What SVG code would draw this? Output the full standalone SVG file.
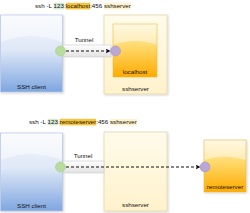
<svg xmlns="http://www.w3.org/2000/svg" width="250" height="213" viewBox="0 0 250 213">
<style>
text{font-family:"Liberation Sans",Arial,sans-serif;font-size:6.2px;fill:#111}
.lbl{text-anchor:middle}
.client{fill:url(#gBlue);stroke:#b8c9e6;stroke-width:0.8}
.server{fill:url(#gCream);stroke:#e3d6a6;stroke-width:0.8}
.host{fill:url(#gOrange);stroke:#e8b84a;stroke-width:0.6}
.tun{fill:url(#gGray);stroke:#c8c8c8;stroke-width:0.6}
.gc{fill:#b7dc9e;stroke:#a3d08a;stroke-width:0.6}
.pc{fill:#b9a7d6;stroke:#a794c8;stroke-width:0.6}
.dash{stroke:#111;stroke-width:1;stroke-dasharray:3,2;fill:none}
.gloss{fill:#ffffff;opacity:0.45}
</style>
<defs>
<linearGradient id="gBlue" x1="0" y1="0" x2="0" y2="1">
<stop offset="0" stop-color="#f5f8fd"/><stop offset="0.45" stop-color="#dfe8f7"/><stop offset="1" stop-color="#7ea6e0"/>
</linearGradient>
<linearGradient id="gCream" x1="0" y1="0" x2="0" y2="1">
<stop offset="0" stop-color="#fffbeb"/><stop offset="1" stop-color="#fff2cc"/>
</linearGradient>
<linearGradient id="gOrange" x1="0" y1="0" x2="0" y2="1">
<stop offset="0" stop-color="#fff4cc"/><stop offset="0.45" stop-color="#ffd766"/><stop offset="1" stop-color="#ffab00"/>
</linearGradient>
<linearGradient id="gGray" x1="0" y1="0" x2="0" y2="1">
<stop offset="0" stop-color="#ffffff"/><stop offset="1" stop-color="#e2e2e2"/>
</linearGradient>
<filter id="sh" x="-10%" y="-10%" width="130%" height="130%">
<feDropShadow dx="1" dy="1" stdDeviation="0.8" flood-color="#000" flood-opacity="0.18"/>
</filter>
<marker id="arr" viewBox="0 0 10 10" refX="9" refY="5" markerWidth="5" markerHeight="5" orient="auto" markerUnits="userSpaceOnUse">
<path d="M0,0 L10,5 L0,10 L3,5 Z" fill="#111"/>
</marker>
</defs>

<g id="title-top">
<rect x="53.6" y="2.8" width="10.4" height="6.6" fill="#d5e8d4"/>
<rect x="65.7" y="2.8" width="24.5" height="6.6" fill="#f9c43a"/>
<rect x="103.9" y="2.8" width="26.9" height="6.6" fill="#fff2cc"/>
<text x="35" y="8">ssh -L </text>
<text x="53.6" y="8">123</text>
<text x="63.96" y="8">:</text>
<text x="65.7" y="8">localhost</text>
<text x="90.15" y="8">:456 </text>
<text x="103.94" y="8">sshserver</text>
</g>

<g id="client-top">
<rect class="client" x="0.5" y="15" width="62" height="77" filter="url(#sh)"/>
<path class="gloss" d="M1,15.5 H62 V42 Q31,30 1,42 Z"/>
<text class="lbl" x="31.5" y="89">SSH client</text>
</g>

<g id="sshserver-top">
<rect class="server" x="104" y="15" width="63" height="79" filter="url(#sh)"/>
<text class="lbl" x="135.5" y="91">sshserver</text>
</g>

<g id="localhost">
<rect class="host" x="113" y="24" width="44" height="53"/>
<path class="gloss" d="M113.5,24.5 H156.5 V45 Q135,37 113.5,45 Z"/>
<text class="lbl" x="135" y="74">localhost</text>
</g>

<g id="tunnel-top">
<rect class="tun" x="63" y="45" width="48" height="12"/>
<text class="lbl" x="84" y="42">Tunnel</text>
</g>

<g id="title-bottom">
<rect x="47.6" y="118.8" width="10.4" height="6.6" fill="#d5e8d4"/>
<rect x="59.66" y="118.8" width="36.5" height="6.6" fill="#f9c43a"/>
<rect x="109.97" y="118.8" width="26.9" height="6.6" fill="#fff2cc"/>
<text x="29" y="124">ssh -L </text>
<text x="47.6" y="124">123</text>
<text x="57.94" y="124">:</text>
<text x="59.66" y="124">remoteserver</text>
<text x="96.18" y="124">:456 </text>
<text x="109.97" y="124">sshserver</text>
</g>

<g id="client-bottom">
<rect class="client" x="0.5" y="133" width="62" height="78" filter="url(#sh)"/>
<path class="gloss" d="M1,133.5 H62 V160 Q31,148 1,160 Z"/>
<text class="lbl" x="31.5" y="208">SSH client</text>
</g>

<g id="sshserver-bottom">
<rect class="server" x="104" y="132" width="63" height="79" filter="url(#sh)"/>
<text class="lbl" x="135.5" y="207">sshserver</text>
</g>

<g id="tunnel-bottom">
<rect class="tun" x="63" y="161" width="41" height="12"/>
<text class="lbl" x="83" y="158">Tunnel</text>
</g>

<g id="remoteserver">
<rect class="host" x="204" y="140" width="42" height="52" filter="url(#sh)"/>
<path class="gloss" d="M204.5,140.5 H245.5 V160 Q225,153 204.5,160 Z"/>
<text class="lbl" x="225" y="189">remoteserver</text>
</g>

<g id="connectors">
<line class="dash" x1="66" y1="51" x2="110" y2="51" marker-end="url(#arr)"/>
<line class="dash" x1="66" y1="167" x2="200" y2="167" marker-end="url(#arr)"/>
</g>

<g id="ports">
<circle class="gc" cx="60.5" cy="51" r="5"/>
<circle class="pc" cx="115.5" cy="51" r="5"/>
<circle class="gc" cx="60.5" cy="167" r="5"/>
<circle class="pc" cx="205" cy="167" r="5"/>
</g>
</svg>
